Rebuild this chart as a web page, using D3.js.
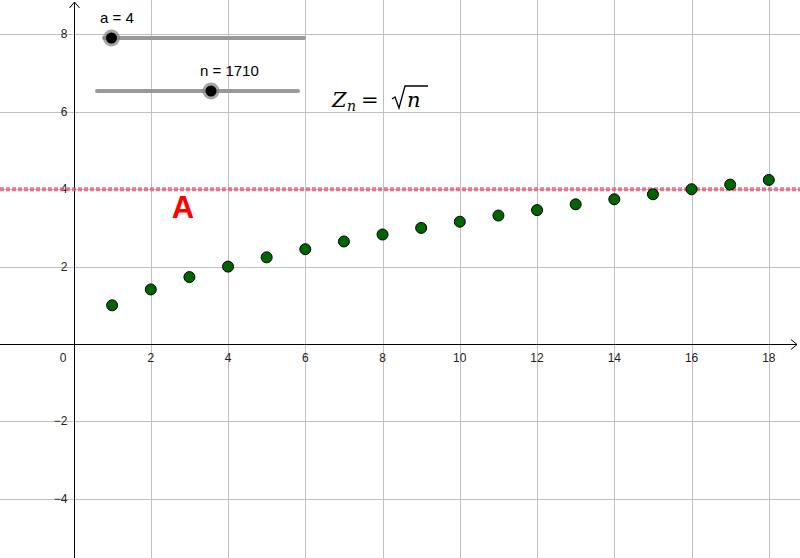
<!DOCTYPE html>
<html><head><meta charset="utf-8">
<script src="https://cdn.jsdelivr.net/npm/d3@7"></script>
<style>html,body{margin:0;padding:0;background:#fff;overflow:hidden}</style>
</head><body>
<svg id="c" width="800" height="558"></svg>
<script>
const nValues = [1,2,3,4,5,6,7,8,9,10,11,12,13,14,15,16,17,18];
const zValues = [1,1.41,1.73,2,2.24,2.45,2.65,2.83,3,3.16,3.32,3.46,3.61,3.74,3.87,4,4.12,4.24];
const xTicks = [2,4,6,8,10,12,14,16,18];
const yTicks = [-4,-2,2,4,6,8];
const aValue = 4;
const nSlider = 1710;

const W = 800, H = 558;
const svg = d3.select("#c");
const x = d3.scaleLinear().domain([-1.903, 18.807]).range([0, W]);
const y = d3.scaleLinear().domain([-5.53, 8.89]).range([H, 0]);
const x0 = x(0), y0 = y(0);

// grid
const g = svg.append("g");
g.selectAll(".vg").data(xTicks).join("line")
  .attr("x1", d=>Math.round(x(d))+0.5).attr("x2", d=>Math.round(x(d))+0.5)
  .attr("y1", 0).attr("y2", H).attr("stroke", "#c0c0c0").attr("stroke-width", 1);
g.selectAll(".hg").data(yTicks).join("line")
  .attr("y1", d=>Math.round(y(d))+0.5).attr("y2", d=>Math.round(y(d))+0.5)
  .attr("x1", 0).attr("x2", W).attr("stroke", "#c0c0c0").attr("stroke-width", 1);

// axes
const ax = Math.round(x0)+0.5, ay = Math.round(y0)+0.5;
svg.append("line").attr("x1", 0).attr("x2", W-3).attr("y1", ay).attr("y2", ay).attr("stroke", "#000");
svg.append("line").attr("x1", ax).attr("x2", ax).attr("y1", 2).attr("y2", H).attr("stroke", "#000");
svg.append("path").attr("d", `M${W-9},${ay-5}L${W-3},${ay}L${W-9},${ay+5}`).attr("fill","none").attr("stroke","#000");
svg.append("path").attr("d", `M${ax-5},${8}L${ax},${2}L${ax+5},${8}`).attr("fill","none").attr("stroke","#000");

// tick labels
const font = "Liberation Sans, Arial, sans-serif";
svg.selectAll(".xt").data(xTicks).join("text")
  .attr("x", d=>x(d)).attr("y", ay+17).attr("text-anchor","middle")
  .attr("font-family", font).attr("font-size", 12).attr("fill","#222").text(d=>d);
svg.append("text").attr("x", ax-8).attr("y", ay+17).attr("text-anchor","end")
  .attr("font-family", font).attr("font-size", 12).attr("fill","#222").text("0");
svg.selectAll(".yt").data(yTicks).join("text")
  .attr("x", ax-7).attr("y", d=>y(d)+4).attr("text-anchor","end")
  .attr("font-family", font).attr("font-size", 12).attr("fill","#222")
  .text(d=> d<0 ? "\u2212"+(-d) : d);

// red dashed line y = a
svg.append("line").attr("x1", 0).attr("x2", W).attr("y1", y(aValue)).attr("y2", y(aValue))
  .attr("stroke", "#ee5577").attr("stroke-opacity", 0.8).attr("stroke-width", 4)
  .attr("stroke-dasharray", "4,2");

svg.append("text").attr("x", 183).attr("y", 218).attr("text-anchor","middle")
  .attr("font-family", font).attr("font-weight","bold").attr("font-size", 31)
  .attr("fill","#ff0000").text("A");

// points
svg.selectAll(".pt").data(nValues).join("circle")
  .attr("cx", (d)=>x(d)).attr("cy", (d,i)=>y(zValues[i])).attr("r", 5.5)
  .attr("fill", "#006400").attr("stroke", "#000").attr("stroke-width", 1);

// sliders
function slider(x1, x2, yy, kx, label, lx) {
  svg.append("line").attr("x1", x1).attr("x2", x2).attr("y1", yy).attr("y2", yy)
    .attr("stroke", "#999").attr("stroke-width", 4).attr("stroke-linecap","round");
  svg.append("circle").attr("cx", kx).attr("cy", yy).attr("r", 8.5).attr("fill", "#808080").attr("fill-opacity",0.7);
  svg.append("circle").attr("cx", kx).attr("cy", yy).attr("r", 5.5).attr("fill", "#000");
  svg.append("text").attr("x", lx).attr("y", yy-15).attr("font-family", font).attr("font-size", 15)
    .attr("fill","#000").text(label);
}
slider(104, 304, 38, 111.5, "a = " + aValue, 100);
slider(97, 298, 91, 211, "n = " + nSlider, 200);

// formula Z_n = sqrt(n)
const f = svg.append("g").attr("font-family","DejaVu Serif, Liberation Serif, serif");
f.append("text").attr("x", 332).attr("y", 107).attr("font-size", 21).attr("font-style","italic").text("Z");
f.append("text").attr("x", 347).attr("y", 111).attr("font-size", 14).attr("font-style","italic").text("n");
f.append("text").attr("x", 361).attr("y", 107).attr("font-size", 21).text("=");
f.append("path").attr("d","M392,99 L395,97 L399,108 L405,86 L428,86").attr("fill","none").attr("stroke","#000").attr("stroke-width",1.3);
f.append("text").attr("x", 407).attr("y", 107).attr("font-size", 21).attr("font-style","italic").text("n");
</script>
</body></html>
